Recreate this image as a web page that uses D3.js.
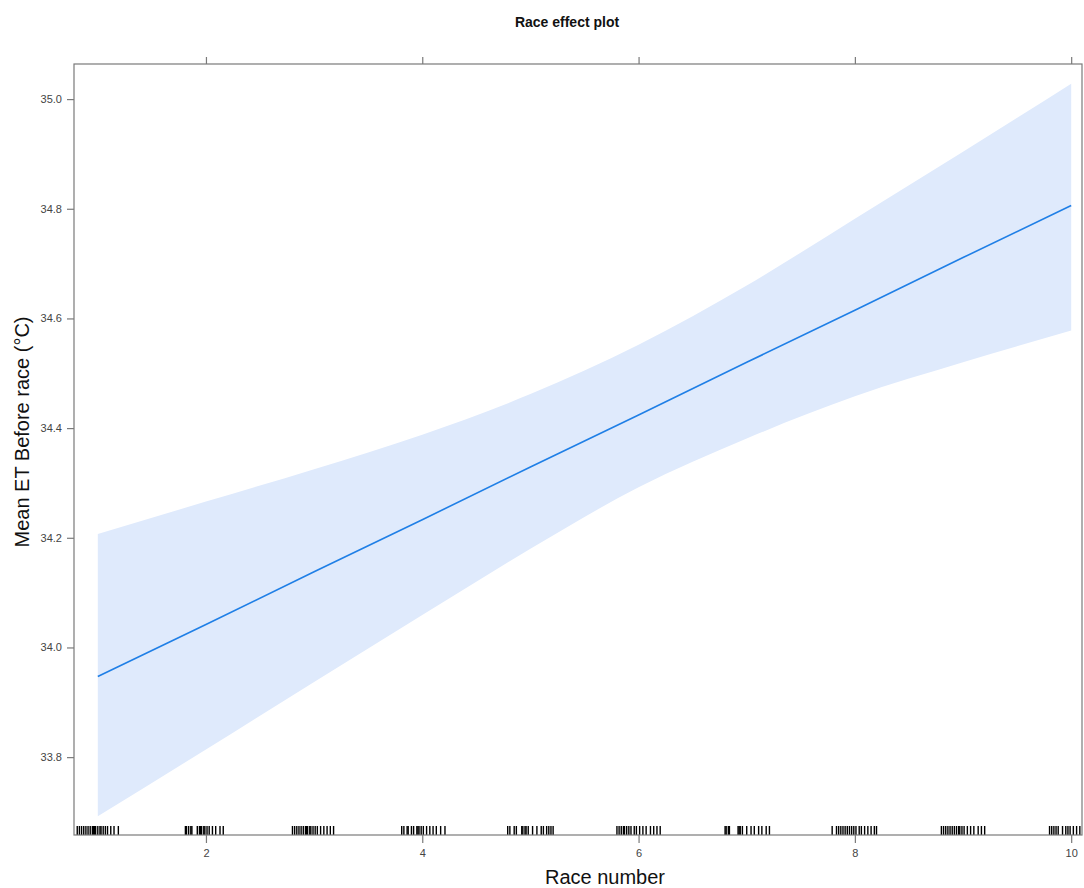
<!DOCTYPE html>
<html>
<head>
<meta charset="utf-8">
<script src="https://cdn.jsdelivr.net/npm/d3@7"></script>
<style>
  body { margin: 0; background: #fff; }
  svg { display: block; font-family: "Liberation Sans", Arial, sans-serif; }
</style>
</head>
<body>
<div id="chart"></div>
<script>
'use strict';

/*** Data */
const raceX = [1, 2, 3, 4, 5, 6, 7, 8, 9, 10];
const fitY = [33.947, 34.042, 34.138, 34.233, 34.329, 34.424, 34.520, 34.615, 34.711, 34.806];
const upperY = [34.207, 34.266, 34.325, 34.388, 34.462, 34.552, 34.660, 34.782, 34.904, 35.028];
const lowerY = [33.692, 33.814, 33.937, 34.059, 34.180, 34.292, 34.381, 34.458, 34.520, 34.578];

/* rug (observed race numbers, jittered) */
const rugValues = [
  0.81, 0.83, 0.85, 0.87, 0.89, 0.91, 0.93, 0.95, 0.96, 0.97, 0.98, 1.00, 1.02, 1.03, 1.05, 1.07, 1.09, 1.12, 1.15, 1.19,
  1.81, 1.82, 1.84, 1.86, 1.87, 1.92, 1.94, 1.95, 1.96, 1.98, 1.99, 2.01, 2.03, 2.06, 2.09, 2.13, 2.16,
  2.80, 2.82, 2.84, 2.86, 2.88, 2.90, 2.92, 2.93, 2.94, 2.96, 2.97, 2.99, 3.01, 3.03, 3.06, 3.09, 3.12, 3.15, 3.18,
  3.81, 3.83, 3.86, 3.87, 3.90, 3.92, 3.95, 3.96, 3.97, 3.99, 4.01, 4.04, 4.07, 4.10, 4.13, 4.17, 4.21,
  4.79, 4.81, 4.85, 4.87, 4.92, 4.93, 4.95, 4.96, 4.98, 5.02, 5.06, 5.10, 5.12, 5.15, 5.17, 5.19, 5.21,
  5.80, 5.82, 5.84, 5.86, 5.87, 5.89, 5.91, 5.93, 5.96, 5.98, 6.01, 6.04, 6.07, 6.11, 6.14, 6.17, 6.20,
  6.80, 6.81, 6.83, 6.84, 6.92, 6.93, 6.94, 6.96, 7.00, 7.04, 7.07, 7.11, 7.14, 7.18, 7.21,
  7.79, 7.83, 7.85, 7.87, 7.89, 7.91, 7.93, 7.95, 7.97, 7.99, 8.01, 8.04, 8.06, 8.09, 8.12, 8.15, 8.18, 8.20,
  8.80, 8.82, 8.84, 8.86, 8.88, 8.90, 8.92, 8.94, 8.96, 8.97, 8.99, 9.01, 9.04, 9.07, 9.10, 9.14, 9.17, 9.20,
  9.80, 9.82, 9.84, 9.86, 9.88, 9.92, 9.95, 9.97, 9.99, 10.02, 10.05, 10.08
];

/* ticks */
const xTicks = [2, 4, 6, 8, 10];
const yTicks = [33.8, 34.0, 34.2, 34.4, 34.6, 34.8, 35.0];

/** Layout */
const w = 1084;
const h = 888;
const panel = { left: 74, top: 64, right: 1082, bottom: 835 };
const axisColor = "#7a7a7a";
const lineColor = "#1f7fe6";
const bandColor = "#dfeafc";

const svg = d3.select("#chart")
  .append("svg")
  .attr("width", w)
  .attr("height", h);

const xScale = d3.scaleLinear()
  .domain([0.78, 10.10])
  .range([panel.left, panel.right]);

const yScale = d3.scaleLinear()
  .domain([33.658, 35.064])
  .range([panel.bottom, panel.top]);

svg.append("defs").append("clipPath")
  .attr("id", "clip")
  .append("rect")
  .attr("x", panel.left)
  .attr("y", panel.top)
  .attr("width", panel.right - panel.left)
  .attr("height", panel.bottom - panel.top);

const plot = svg.append("g").attr("clip-path", "url(#clip)");

/** Confidence band */
const rows = raceX.map((x, i) => ({ x: x, fit: fitY[i], lo: lowerY[i], hi: upperY[i] }));

plot.append("path")
  .datum(rows)
  .attr("fill", bandColor)
  .attr("d", d3.area()
    .curve(d3.curveMonotoneX)
    .x(d => xScale(d.x))
    .y0(d => yScale(d.lo))
    .y1(d => yScale(d.hi)));

/** Fitted line */
plot.append("path")
  .datum(rows)
  .attr("fill", "none")
  .attr("stroke", lineColor)
  .attr("stroke-width", 1.6)
  .attr("d", d3.line()
    .x(d => xScale(d.x))
    .y(d => yScale(d.fit)));

/** Rug */
plot.append("g")
  .selectAll("line")
  .data(rugValues)
  .join("line")
  .attr("x1", d => xScale(d))
  .attr("x2", d => xScale(d))
  .attr("y1", panel.bottom)
  .attr("y2", panel.bottom - 9)
  .attr("stroke", "#000")
  .attr("stroke-width", 1.4);

/** Panel box */
svg.append("rect")
  .attr("x", panel.left)
  .attr("y", panel.top)
  .attr("width", panel.right - panel.left)
  .attr("height", panel.bottom - panel.top)
  .attr("fill", "none")
  .attr("stroke", axisColor)
  .attr("stroke-width", 1.2);

/** Axes */
const styleAxis = (g) => {
  g.select(".domain").remove();
  g.selectAll(".tick line").attr("stroke", axisColor).attr("stroke-width", 1.2);
  g.selectAll(".tick text")
    .attr("fill", "#444")
    .style("font-size", "11px")
    .style("font-family", "'Liberation Sans', Arial, sans-serif");
};

svg.append("g")
  .attr("transform", "translate(0," + panel.bottom + ")")
  .call(d3.axisBottom(xScale).tickValues(xTicks).tickSize(8).tickPadding(6).tickFormat(d3.format("d")))
  .call(styleAxis);

svg.append("g")
  .attr("transform", "translate(0," + panel.top + ")")
  .call(d3.axisTop(xScale).tickValues(xTicks).tickSize(7).tickFormat(""))
  .call(styleAxis);

svg.append("g")
  .attr("transform", "translate(" + panel.left + ",0)")
  .call(d3.axisLeft(yScale).tickValues(yTicks).tickSize(7).tickPadding(5).tickFormat(d3.format(".1f")))
  .call(styleAxis);

/** Titles */
svg.append("text")
  .attr("x", 567)
  .attr("y", 27)
  .attr("text-anchor", "middle")
  .style("font-size", "14px")
  .style("font-weight", "bold")
  .attr("fill", "#111")
  .text("Race effect plot");

svg.append("text")
  .attr("x", (panel.left + panel.right) / 2 + 27)
  .attr("y", 884)
  .attr("text-anchor", "middle")
  .style("font-size", "20px")
  .attr("fill", "#111")
  .text("Race number");

svg.append("text")
  .attr("transform", "translate(29,432) rotate(-90)")
  .attr("text-anchor", "middle")
  .style("font-size", "20px")
  .attr("fill", "#111")
  .text("Mean ET Before race (°C)");
</script>
</body>
</html>
